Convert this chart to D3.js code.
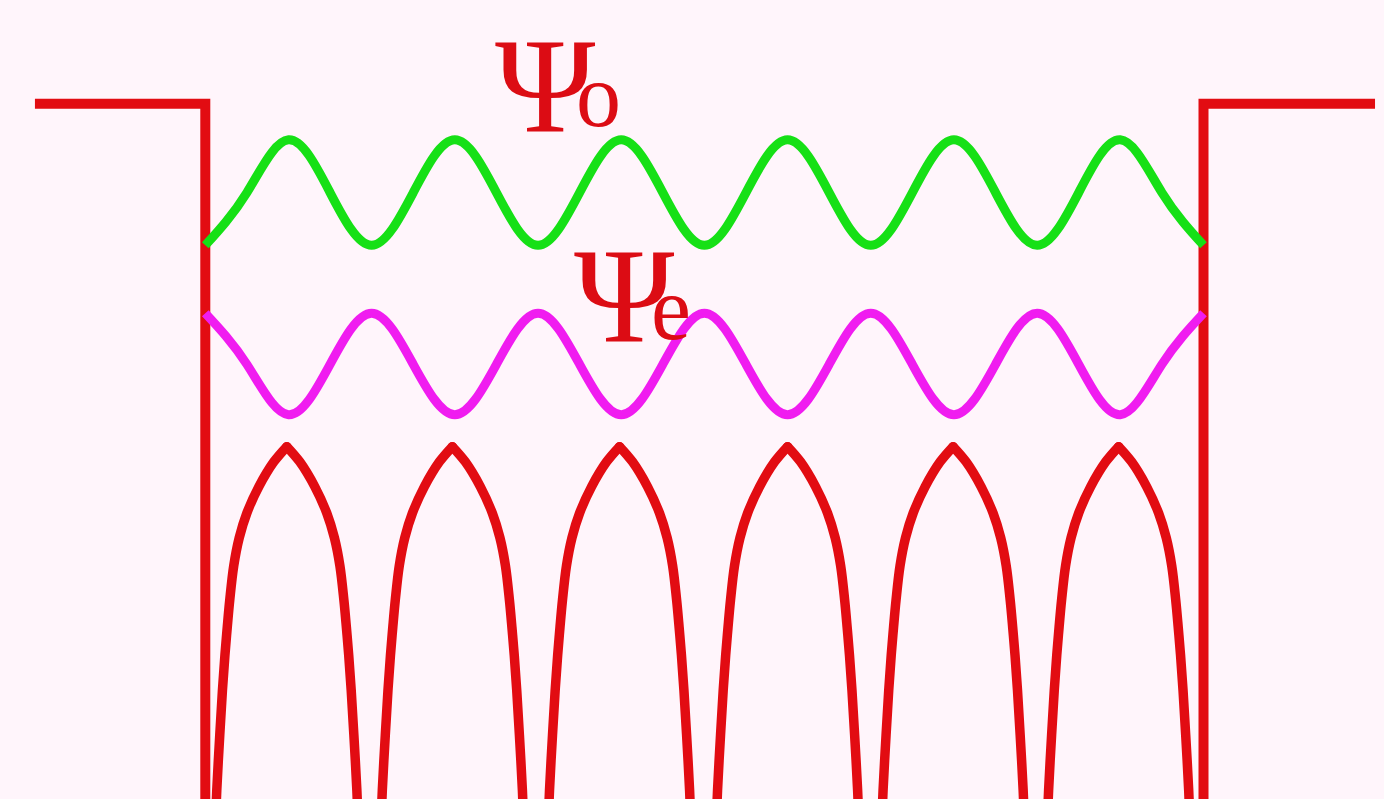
<!DOCTYPE html>
<html>
<head>
<meta charset="utf-8">
<script src="https://cdn.jsdelivr.net/npm/d3@7"></script>
<style>
  html, body { margin: 0; padding: 0; background: #fff5fb; }
  svg { display: block; }
</style>
</head>
<body>
<svg id="chart" width="1384" height="799"></svg>
<script>
// ---- data (lattice units along x, energy units along y) ----
// potential well outline: left barrier top, left wall, (bottom off-view), right wall, right barrier top
const wellX = [-1.024, 0, 0, 6, 6, 7.031];
const wellV = [87.0, 87.0, -5, -5, 87.0, 87.0];

// sample positions for the two wave functions
const waveX = [0,0.25,0.5,0.75,1,1.25,1.5,1.75,2,2.25,2.5,2.75,3,3.25,3.5,3.75,4,4.25,4.5,4.75,5,5.25,5.5,5.75,6];
// psi_o (green)
const psiO = [69.3,75.9,82.5,75.9,69.3,75.9,82.5,75.9,69.3,75.9,82.5,75.9,69.3,75.9,82.5,75.9,69.3,75.9,82.5,75.9,69.3,75.9,82.5,75.9,69.3];
// psi_e (magenta)
const psiE = [60.8,54.4,48.1,54.4,60.8,54.4,48.1,54.4,60.8,54.4,48.1,54.4,60.8,54.4,48.1,54.4,60.8,54.4,48.1,54.4,60.8,54.4,48.1,54.4,60.8];

// periodic (ionic) potential: arch centres and the shape of one arch (apex at index 12)
const archCenters = [0.49, 1.485, 2.49, 3.5, 4.495, 5.49];
const archOffset = [-0.43,-0.421,-0.403,-0.387,-0.372,-0.358,-0.343,-0.319,-0.286,-0.24,-0.168,-0.078,0,
                    0.078,0.168,0.24,0.286,0.319,0.343,0.358,0.372,0.387,0.403,0.421,0.43];
const archV = [-3.9,1.1,8.0,13.6,18.0,21.5,24.9,29.2,32.7,35.8,39.1,42.2,44.1,
               42.2,39.1,35.8,32.7,29.2,24.9,21.5,18.0,13.6,8.0,1.1,-3.9];

// labels
const labelMain = ["\u03A8", "\u03A8"];
const labelSub = ["o", "e"];

// ---- drawing ----
const svg = d3.select("#chart");
svg.append("rect").attr("width", 1384).attr("height", 799).attr("fill", "#fff5fb");

const x = d3.scaleLinear().domain([0, 6]).range([205.3, 1203.5]);
const y = d3.scaleLinear().domain([0, 100]).range([799, 0]);

const RED = "#e20c12", GREEN = "#16e016", MAGENTA = "#f01cf0", TEXTRED = "#dc0c14";

const straight = d3.line().x(d => x(d[0])).y(d => y(d[1]));
const smooth = d3.line().x(d => x(d[0])).y(d => y(d[1])).curve(d3.curveNatural);
const half = d3.line().x(d => x(d[0])).y(d => y(d[1])).curve(d3.curveCatmullRom.alpha(0.5));

// arches: each drawn as two smooth halves meeting in a pointed apex
const apex = 12;
archCenters.forEach(c => {
  const pts = archOffset.map((o, i) => [c + o, archV[i]]);
  const g = svg.append("g").attr("fill", "none").attr("stroke", RED)
    .attr("stroke-width", 9.5).attr("stroke-linecap", "round");
  g.append("path").attr("d", half(pts.slice(0, apex + 1)));
  g.append("path").attr("d", half(pts.slice(apex)));
});

// well
svg.append("path")
  .attr("d", straight(wellX.map((v, i) => [v, wellV[i]])))
  .attr("fill", "none").attr("stroke", RED).attr("stroke-width", 10)
  .attr("stroke-linejoin", "miter");

// waves
svg.append("path")
  .attr("d", smooth(waveX.map((v, i) => [v, psiO[i]])))
  .attr("fill", "none").attr("stroke", GREEN).attr("stroke-width", 9);
svg.append("path")
  .attr("d", smooth(waveX.map((v, i) => [v, psiE[i]])))
  .attr("fill", "none").attr("stroke", MAGENTA).attr("stroke-width", 9);

// labels: one text element each, subscript as a tspan flowing after the Psi
const labelAnchors = [
  { main: [1.741, 83.48], sub: [2.228, 84.23] },
  { main: [2.216, 57.20], sub: [2.679, 57.57] }
];
labelAnchors.forEach((a, i) => {
  const t = svg.append("text")
    .attr("x", x(a.main[0])).attr("y", y(a.main[1]))
    .attr("font-family", "Liberation Serif")
    .attr("fill", TEXTRED);
  const m = t.append("tspan")
    .attr("font-size", 136)
    .text(labelMain[i]);
  const adv = m.node().getComputedTextLength();
  t.append("tspan")
    .attr("dx", x(a.sub[0]) - (x(a.main[0]) + adv))
    .attr("dy", y(a.sub[1]) - y(a.main[1]))
    .attr("font-size", 90)
    .text(labelSub[i]);
});
</script>
</body>
</html>
